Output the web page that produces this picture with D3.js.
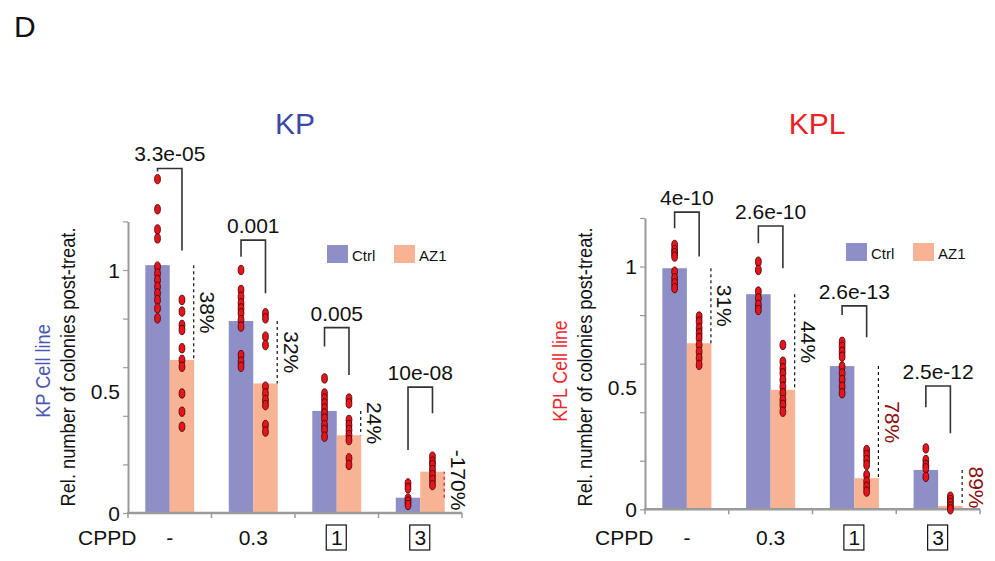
<!DOCTYPE html>
<html>
<head>
<meta charset="utf-8">
<script src="https://cdn.jsdelivr.net/npm/d3@7/dist/d3.min.js"></script>
<style>
  html, body { margin: 0; padding: 0; background: #fff; }
  svg { display: block; font-family: "Liberation Sans", Arial, Helvetica, sans-serif; }
</style>
</head>
<body>
<svg id="chart" width="995" height="561"></svg>
<script>
// ---------------- DATA ----------------
const doses = ["-", "0.3", "1", "3"];
const dosesBoxed = [false, false, true, true];
const seriesNames = ["Ctrl", "AZ1"];
const yTickValues = [0, 0.2, 0.4, 0.6, 0.8, 1.0, 1.2];
const yTickLabels = [0, 0.5, 1];

// KP cell line
const kpCtrlMean = [1.02, 0.79, 0.42, 0.063];
const kpAz1Mean  = [0.63, 0.533, 0.32, 0.17];
const kpCtrlDots = [
  [1.374, 1.25, 1.167, 1.13, 1.014, 0.986, 0.959, 0.931, 0.904, 0.877, 0.842, 0.801],
  [1.0, 0.918, 0.890, 0.863, 0.842, 0.822, 0.794, 0.767, 0.650, 0.623, 0.602],
  [0.554, 0.492, 0.471, 0.451, 0.430, 0.410, 0.389, 0.362, 0.342, 0.314],
  [0.122, 0.102, 0.060, 0.047, 0.033]
];
const kpAz1Dots = [
  [0.877, 0.829, 0.774, 0.753, 0.678, 0.630, 0.602, 0.492, 0.417, 0.355],
  [0.822, 0.801, 0.726, 0.691, 0.520, 0.492, 0.465, 0.444, 0.362, 0.335],
  [0.471, 0.451, 0.383, 0.362, 0.342, 0.321, 0.300, 0.225, 0.198],
  [0.232, 0.211, 0.198, 0.177, 0.156, 0.136, 0.115]
];
const kpPvalues = ["3.3e-05", "0.001", "0.005", "10e-08"];
const kpBracketTop = [1.418, 1.123, 0.763, 0.518];
const kpBracketLeftEnd = [1.405, 1.055, 0.685, 0.259];
const kpBracketRightEnd = [1.08, 0.904, 0.568, 0.41];
const kpChange = ["38%", "32%", "24%", "-170%"];

// KPL cell line
const kplCtrlMean = [0.993, 0.886, 0.59, 0.162];
const kplAz1Mean  = [0.684, 0.492, 0.128, 0.014];
const kplCtrlDots = [
  [1.089, 1.068, 1.055, 1.041, 0.979, 0.952, 0.931, 0.911],
  [1.020, 0.986, 0.897, 0.869, 0.842, 0.821],
  [0.690, 0.670, 0.649, 0.629, 0.588, 0.560, 0.533, 0.505, 0.478],
  [0.251, 0.203, 0.183, 0.169, 0.134]
];
const kplAz1Dots = [
  [0.794, 0.773, 0.746, 0.725, 0.705, 0.677, 0.649, 0.622, 0.595],
  [0.677, 0.608, 0.581, 0.560, 0.533, 0.505, 0.478, 0.450, 0.430, 0.402],
  [0.244, 0.224, 0.203, 0.183, 0.141, 0.114, 0.093, 0.073],
  [0.052, 0.038, 0.025, 0.011, 0.0]
];
const kplPvalues = ["4e-10", "2.6e-10", "2.6e-13", "2.5e-12"];
const kplBracketTop = [1.224, 1.167, 0.838, 0.508];
const kplBracketLeftEnd = [1.158, 1.096, 0.80, 0.42];
const kplBracketRightEnd = [1.041, 0.993, 0.709, 0.313];
const kplChange = ["31%", "44%", "78%", "89%"];

// ---------------- STYLE / LAYOUT ----------------
const colCtrl = "#8f8fc7";
const colAz1 = "#f7b394";
const colDot = "#e8141c";
const axisGrey = "#9a9a9a";

const panels = [
  {
    title: "KP", titleColor: "#3d47a6", titleX: 295,
    cellLabel: "KP Cell line", cellColor: "#4b55b2",
    x0: 128, x1: 462, y0: 513, yTop: 221.4,
    ctrl: kpCtrlMean, az1: kpAz1Mean, ctrlDots: kpCtrlDots, az1Dots: kpAz1Dots,
    pvals: kpPvalues, bTop: kpBracketTop, bL: kpBracketLeftEnd, bR: kpBracketRightEnd,
    change: kpChange,
    changeTextColor: ["#111", "#111", "#111", "#111"],
    changeLineColor: ["#111", "#111", "#111", "#e8141c"],
    legendX: 327, legendY: 245
  },
  {
    title: "KPL", titleColor: "#ec2227", titleX: 817,
    cellLabel: "KPL Cell line", cellColor: "#ee262c",
    x0: 645, x1: 980, y0: 509.3, yTop: 218,
    ctrl: kplCtrlMean, az1: kplAz1Mean, ctrlDots: kplCtrlDots, az1Dots: kplAz1Dots,
    pvals: kplPvalues, bTop: kplBracketTop, bL: kplBracketLeftEnd, bR: kplBracketRightEnd,
    change: kplChange,
    changeTextColor: ["#111", "#111", "#8b1010", "#8b1010"],
    changeLineColor: ["#111", "#111", "#111", "#111"],
    legendX: 846, legendY: 243
  }
];

const svg = d3.select("#chart");
svg.append("rect").attr("width", 995).attr("height", 561).attr("fill", "#fff");

svg.append("text").attr("x", 14).attr("y", 37)
  .attr("font-size", 30).attr("fill", "#111").text("D");

panels.forEach(p => {
  const g = svg.append("g");
  const x = d3.scaleBand().domain(doses).range([p.x0, p.x1]).paddingInner(0).paddingOuter(0);
  const y = d3.scaleLinear().domain([0, 1.2]).range([p.y0, p.yTop]);
  const bw = x.bandwidth() * 0.293;
  const cx = d => x(d) + x.bandwidth() / 2;

  // bars
  g.selectAll(".barC").data(doses).join("rect")
    .attr("x", d => cx(d) - bw).attr("width", bw)
    .attr("y", (d, i) => y(p.ctrl[i])).attr("height", (d, i) => p.y0 - y(p.ctrl[i]))
    .attr("fill", colCtrl);
  g.selectAll(".barA").data(doses).join("rect")
    .attr("x", d => cx(d)).attr("width", bw)
    .attr("y", (d, i) => y(p.az1[i])).attr("height", (d, i) => p.y0 - y(p.az1[i]))
    .attr("fill", colAz1);

  // y axis
  const yAxis = d3.axisLeft(y).tickValues(yTickValues).tickFormat("").tickSize(5).tickSizeOuter(0);
  const ya = g.append("g").attr("transform", `translate(${p.x0},0)`).call(yAxis);
  ya.select(".domain").attr("stroke", axisGrey).attr("stroke-width", 2);
  ya.selectAll(".tick line").attr("stroke", axisGrey).attr("stroke-width", 1.2);

  g.selectAll(".ylab").data(yTickLabels).join("text")
    .attr("x", p.x0 - 8).attr("y", d => y(d) + 7.5)
    .attr("text-anchor", "end").attr("font-size", 21).attr("fill", "#111")
    .text(d => d);

  // x axis
  g.append("line").attr("x1", p.x0 - 1).attr("x2", p.x1).attr("y1", p.y0).attr("y2", p.y0)
    .attr("stroke", axisGrey).attr("stroke-width", 2.5);
  const bounds = doses.map(d => x(d)).concat([p.x1]);
  g.selectAll(".xt").data(bounds).join("line")
    .attr("x1", d => d).attr("x2", d => d).attr("y1", p.y0).attr("y2", p.y0 + 5)
    .attr("stroke", axisGrey).attr("stroke-width", 1.5);

  // x labels
  g.append("text").attr("x", p.x0 - 50).attr("y", 545).attr("font-size", 21).attr("fill", "#111").text("CPPD");
  doses.forEach((d, i) => {
    g.append("text").attr("x", cx(d)).attr("y", 545).attr("text-anchor", "middle")
      .attr("font-size", 21).attr("fill", "#111").text(d);
    if (dosesBoxed[i]) {
      g.append("rect").attr("x", cx(d) - 10.5).attr("y", 525).attr("width", 20).attr("height", 25)
        .attr("fill", "none").attr("stroke", "#111").attr("stroke-width", 1.2);
    }
  });

  // dots
  const drawDots = (arr, off) => {
    arr.forEach((vals, i) => {
      g.selectAll(null).data(vals).join("ellipse")
        .attr("cx", cx(doses[i]) + off).attr("cy", v => y(v))
        .attr("rx", 2.9).attr("ry", 4.7)
        .attr("fill", colDot).attr("stroke", "#3a0000").attr("stroke-width", 0.8);
    });
  };
  drawDots(p.ctrlDots, -bw / 2);
  drawDots(p.az1Dots, bw / 2);

  // brackets + p-values
  doses.forEach((d, i) => {
    const xl = cx(d) - bw / 2, xr = cx(d) + bw / 2;
    g.append("path")
      .attr("d", `M${xl},${y(p.bL[i])}V${y(p.bTop[i])}H${xr}V${y(p.bR[i])}`)
      .attr("fill", "none").attr("stroke", "#333").attr("stroke-width", 1.6);
    g.append("text").attr("x", (xl + xr) / 2).attr("y", y(p.bTop[i]) - 7)
      .attr("text-anchor", "middle").attr("font-size", 21).attr("fill", "#111")
      .text(p.pvals[i]);
  });

  // percent change dashed lines + labels
  doses.forEach((d, i) => {
    const xd = cx(d) + bw - 0.5;
    const ya1 = y(p.ctrl[i]), ya2 = y(p.az1[i]);
    g.append("line").attr("x1", xd).attr("x2", xd).attr("y1", ya1).attr("y2", ya2)
      .attr("stroke", p.changeLineColor[i]).attr("stroke-width", 1.2)
      .attr("stroke-dasharray", "3,3");
    const len = p.change[i].length * 11.2;
    let cy = (ya1 + ya2) / 2;
    if (cy + len / 2 > p.y0 - 5) cy = p.y0 - 5 - len / 2;
    g.append("text").attr("transform", `translate(${xd + 6.5},${cy}) rotate(90)`)
      .attr("text-anchor", "middle").attr("font-size", 21).attr("fill", p.changeTextColor[i])
      .text(p.change[i]);
  });

  // title
  g.append("text").attr("x", p.titleX).attr("y", 134).attr("text-anchor", "middle")
    .attr("font-size", 30).attr("fill", p.titleColor).text(p.title);

  // y labels
  g.append("text").attr("transform", `translate(${p.x0 - 53},367) rotate(-90)`)
    .attr("text-anchor", "middle").attr("font-size", 20).attr("fill", "#111")
    .attr("textLength", 279).attr("lengthAdjust", "spacingAndGlyphs")
    .text("Rel. number of colonies post-treat.");
  g.append("text").attr("transform", `translate(${p.x0 - 78},371) rotate(-90)`)
    .attr("text-anchor", "middle").attr("font-size", 20).attr("fill", p.cellColor)
    .attr("textLength", p.cellLabel.length * 7.8).attr("lengthAdjust", "spacingAndGlyphs")
    .text(p.cellLabel);

  // legend
  const lg = g.append("g").attr("transform", `translate(${p.legendX},${p.legendY})`);
  [colCtrl, colAz1].forEach((c, k) => {
    lg.append("rect").attr("x", k * 67).attr("y", 0).attr("width", 21).attr("height", 18).attr("fill", c);
    lg.append("text").attr("x", k * 67 + 25).attr("y", 15.5).attr("font-size", 15).attr("fill", "#111")
      .text(seriesNames[k]);
  });
});
</script>
</body>
</html>
